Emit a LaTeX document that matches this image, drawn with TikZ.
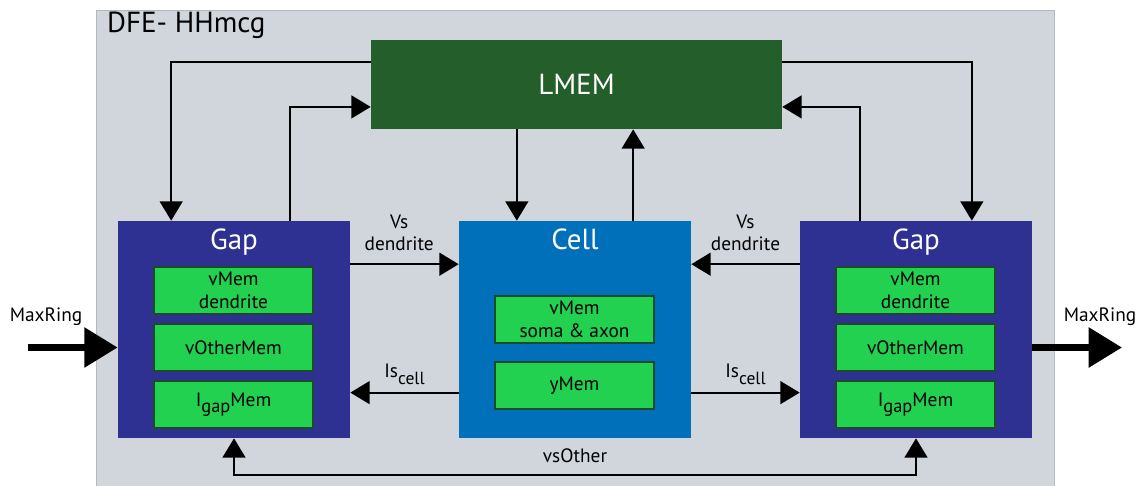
\documentclass[tikz,border=0pt]{standalone}
\usepackage{fontspec}
\setmainfont{PT Sans}
\usetikzlibrary{calc}
\usetikzlibrary{arrows.meta}
\usetikzlibrary{positioning}

\definecolor{panelgray}{HTML}{D1D5DC}
\definecolor{panelline}{HTML}{B5B8BD}
\definecolor{lmemgreen}{HTML}{245E2B}
\definecolor{gapblue}{HTML}{2E3192}
\definecolor{cellblue}{HTML}{0070BA}
\definecolor{memgreen}{HTML}{22D150}
\definecolor{memline}{HTML}{1C4A2A}

\begin{document}
\begin{tikzpicture}[x=0.02cm, y=-0.02cm,
    block/.style={rectangle, inner sep=0pt, minimum width=4.64cm, minimum height=4.34cm},
    mem/.style={rectangle, draw=memline, line width=0.6pt, fill=memgreen, inner sep=0pt, minimum width=3.18cm, minimum height=0.94cm, align=center, font=\fontsize{11}{13.2}\selectfont},
    blocktitle/.style={text=white, anchor=base, font=\fontsize{16.5}{19}\selectfont},
    arr/.style={line width=1.1pt, -{Triangle[length=11pt, width=13pt]}},
    bigarr/.style={line width=4pt, -{Triangle[length=19pt, width=22pt]}},
    lbl/.style={align=center, inner sep=0pt, font=\fontsize{11}{12.5}\selectfont}]
    \useasboundingbox (0,0) rectangle (1140,486);
    \node[rectangle, fill=panelgray, draw=panelline, line width=0.8pt, inner sep=0pt, minimum width=19.16cm, minimum height=9.6cm, anchor=north west] (dfe) at (96,10) {};
    \node[anchor=west, font=\fontsize{16.5}{19}\selectfont] (title) at (101,25) {DFE- HHmcg};

    \node[block, fill=lmemgreen, minimum width=8.22cm, minimum height=1.78cm, text=white, font=\fontsize{16.5}{19}\selectfont] (lmem) at (576.5,84.5) {LMEM};
    \node[block, fill=gapblue] (gapL) at (234,329.5) {};
    \node[block, fill=cellblue] (cell) at (575,329.5) {};
    \node[block, fill=gapblue] (gapR) at (916,329.5) {};
    \foreach \b/\t in {gapL/Gap, cell/Cell, gapR/Gap}
        \node[blocktitle] (\b-title) at ($(\b.north)+(0,29)$) {\t};

    \foreach \g/\x in {L/233.5, R/915.5} {
        \node[mem] (vmem\g) at (\x,290.5) {vMem\\dendrite};
        \node[mem] (voth\g) at (\x,347.5) {vOtherMem};
        \node[mem] (igap\g) at (\x,404.5) {I\raisebox{-0.6ex}{\fontsize{10.5}{12}\selectfont gap}Mem};
    }
    \node[mem] (vmemC) at (574.5,319.5) {vMem\\soma \& axon};
    \node[mem] (ymemC) at (574.5,385.5) {yMem};

    % LMEM <-> Gap
    \draw[arr] ($(lmem.north west)!0.25!(lmem.south west)$) -| ($(gapL.north west)!0.23!(gapL.north east)$);
    \draw[arr] ($(gapL.north west)!0.74!(gapL.north east)$) |- ($(lmem.north west)!0.75!(lmem.south west)$);
    \draw[arr] ($(lmem.north east)!0.25!(lmem.south east)$) -| ($(gapR.north west)!0.74!(gapR.north east)$);
    \draw[arr] ($(gapR.north west)!0.26!(gapR.north east)$) |- ($(lmem.north east)!0.75!(lmem.south east)$);

    % LMEM <-> Cell
    \coordinate (cin) at ($(cell.north west)!0.25!(cell.north east)$);
    \coordinate (cout) at ($(cell.north west)!0.75!(cell.north east)$);
    \draw[arr] (lmem.south -| cin) -- (cin);
    \draw[arr] (cout) -- (lmem.south -| cout);

    % Gap <-> Cell
    \coordinate (vsL) at ($(gapL.north east)!0.2!(gapL.south east)$);
    \coordinate (vsR) at ($(gapR.north west)!0.2!(gapR.south west)$);
    \draw[arr] (vsL) -- (cell.west |- vsL) node[lbl, midway, above=7pt, xshift=-3pt] (vsLlbl) {Vs\\dendrite};
    \draw[arr] (vsR) -- (cell.east |- vsR) node[lbl, midway, above=7pt] (vsRlbl) {Vs\\dendrite};
    \coordinate (isL) at ($(cell.north west)!0.79!(cell.south west)$);
    \coordinate (isR) at ($(cell.north east)!0.79!(cell.south east)$);
    \draw[arr] (isL) -- (gapL.east |- isL) node[lbl, midway, above=4pt] (isLlbl) {Is\raisebox{-0.7ex}{\fontsize{10}{12}\selectfont cell}};
    \draw[arr] (isR) -- (gapR.west |- isR) node[lbl, midway, above=4pt] (isRlbl) {Is\raisebox{-0.7ex}{\fontsize{10}{12}\selectfont cell}};

    % vsOther
    \draw[arr, {Triangle[length=11pt, width=13pt]}-{Triangle[length=11pt, width=13pt]}] (gapL.south) -- ++(0,37) -| (gapR.south);
    \node[lbl] (vsother) at (575,456) {vsOther};

    % MaxRing
    \coordinate (ringin) at (28,347.5);
    \coordinate (ringout) at (1122,347.5);
    \draw[bigarr] (ringin) -- (gapL.west |- ringin);
    \draw[bigarr] (gapR.east |- ringout) -- (ringout);
    \node[lbl] (ringinlbl) at (46,317) {MaxRing};
    \node[lbl] (ringoutlbl) at (1100,317) {MaxRing};
\end{tikzpicture}
\end{document}
